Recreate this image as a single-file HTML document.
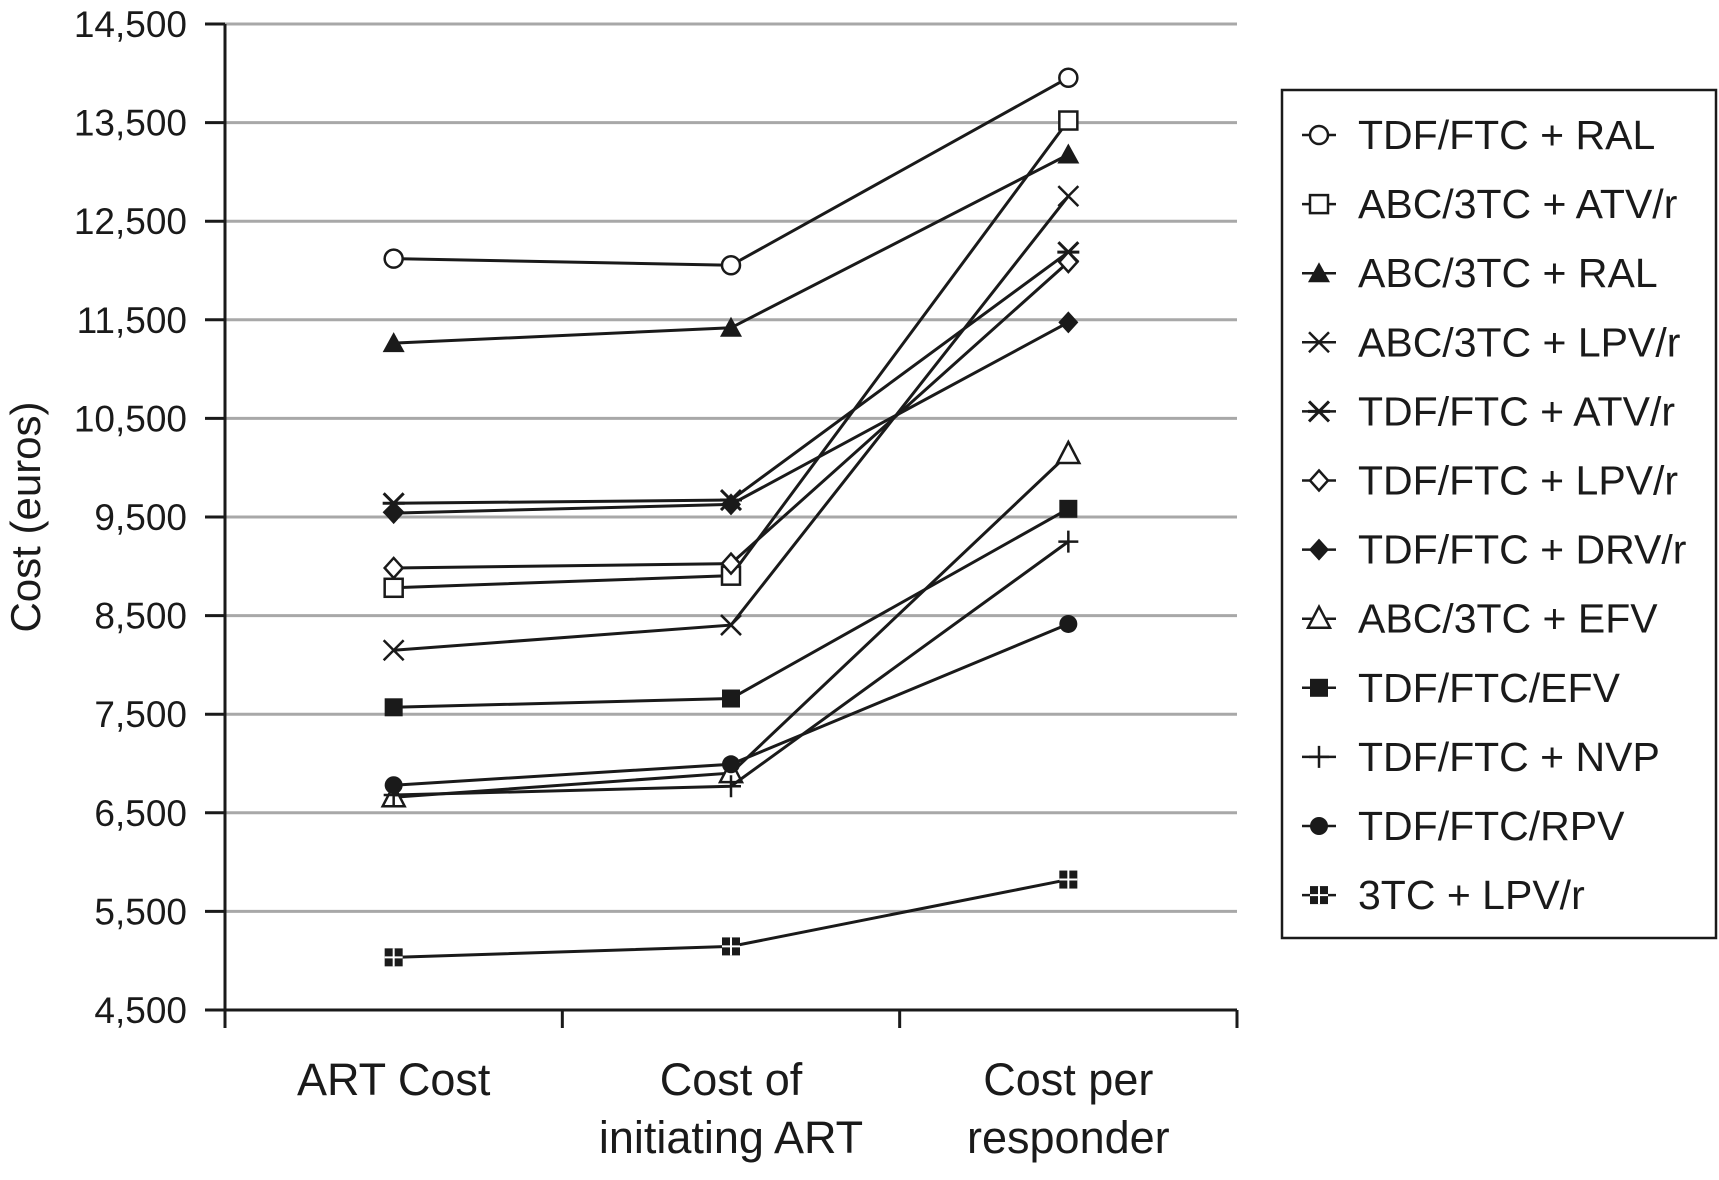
<!DOCTYPE html>
<html><head><meta charset="utf-8"><style>
html,body{margin:0;padding:0;background:#fff;}
svg{display:block;font-family:"Liberation Sans",Arial,sans-serif;}
</style></head><body>
<svg id="chart" width="1719" height="1180" viewBox="0 0 1719 1180" xmlns="http://www.w3.org/2000/svg"></svg>
<script>
const categories = ["ART Cost", "Cost of|initiating ART", "Cost per|responder"];
const seriesNames = ["TDF/FTC + RAL","ABC/3TC + ATV/r","ABC/3TC + RAL","ABC/3TC + LPV/r","TDF/FTC + ATV/r","TDF/FTC + LPV/r","TDF/FTC + DRV/r","ABC/3TC + EFV","TDF/FTC/EFV","TDF/FTC + NVP","TDF/FTC/RPV","3TC + LPV/r"];
const markers = ["ocircle","osquare","ftri","x","star","odiamond","fdiamond","otri","fsquare","plus","fcircle","hash"];
const s1 = [12120, 12053, 13955];
const s2 = [8782, 8905, 13521];
const s3 = [11263, 11419, 13176];
const s4 = [8149, 8404, 12754];
const s5 = [9639, 9672, 12186];
const s6 = [8983, 9027, 12086];
const s7 = [9539, 9628, 11474];
const s8 = [6658, 6903, 10139];
const s9 = [7570, 7659, 9583];
const s10 = [6680, 6769, 9250];
const s11 = [6780, 6992, 8415];
const s12 = [5034, 5145, 5823];
const seriesValues = [s1,s2,s3,s4,s5,s6,s7,s8,s9,s10,s11,s12];
const yTicks = [4500,5500,6500,7500,8500,9500,10500,11500,12500,13500,14500];
const yTickLabels = ["4,500","5,500","6,500","7,500","8,500","9,500","10,500","11,500","12,500","13,500","14,500"];

const svg = document.getElementById('chart');
const NS = "http://www.w3.org/2000/svg";
const X0 = 225, X1 = 1237, Y0 = 1010, Y1 = 24;
const yMin = 4500, yMax = 14500;
function yScale(v){ return Y0 - (v - yMin) / (yMax - yMin) * (Y0 - Y1); }
function xScale(i){ return X0 + (i + 0.5) * (X1 - X0) / categories.length; }
function mk(tag, attrs, parent){
  const e = document.createElementNS(NS, tag);
  for (const k in attrs) e.setAttribute(k, attrs[k]);
  (parent || svg).appendChild(e);
  return e;
}
yTicks.forEach((t, i) => {
  const y = yScale(t);
  if (i > 0) {
    const g = mk('line', {x1:X0, x2:X1, y1:y, y2:y, stroke:'#a8a8a8', 'stroke-width':3});
    
    
  }
  const tk = mk('line', {x1:X0-20, x2:X0, y1:y, y2:y, stroke:'#1a1a1a', 'stroke-width':3});
  
  
  const lb = mk('text', {x:187, y:y+13, 'text-anchor':'end', 'font-size':37, fill:'#1a1a1a'});
  lb.textContent = yTickLabels[i];
  
  
});
const ya = mk('line', {x1:X0, x2:X0, y1:Y1, y2:Y0, stroke:'#1a1a1a', 'stroke-width':3});


const xa = mk('line', {x1:X0-2, x2:X1, y1:Y0, y2:Y0, stroke:'#1a1a1a', 'stroke-width':3});


for (let i = 0; i <= categories.length; i++) {
  const x = X0 + i * (X1 - X0) / categories.length;
  const t = mk('line', {x1:x, x2:x, y1:Y0, y2:Y0+18, stroke:'#1a1a1a', 'stroke-width':3});
  
  
}
categories.forEach((c, i) => {
  const lines = c.split('|');
  lines.forEach((ln, j) => {
    const t = mk('text', {x:xScale(i), y:1095 + j*58, 'text-anchor':'middle', 'font-size':45, fill:'#1a1a1a'});
    t.textContent = ln;
    
    
  });
});
const yt = mk('text', {x:0, y:0, 'text-anchor':'middle', 'font-size':42, fill:'#1a1a1a', transform:'translate(40,517) rotate(-90)'});
yt.textContent = "Cost (euros)";



function marker(type, x, y, parent){
  const st = {stroke:'#1a1a1a', 'stroke-width':2.5};
  switch(type){
    case 'ocircle': mk('circle', Object.assign({cx:x, cy:y, r:9, fill:'#fff'}, st), parent); break;
    case 'fcircle': mk('circle', {cx:x, cy:y, r:9, fill:'#1a1a1a'}, parent); break;
    case 'osquare': mk('rect', Object.assign({x:x-9, y:y-9, width:18, height:18, fill:'#fff'}, st), parent); break;
    case 'fsquare': mk('rect', {x:x-9, y:y-9, width:18, height:18, fill:'#1a1a1a'}, parent); break;
    case 'ftri': mk('polygon', {points:`${x},${y-11} ${x+11},${y+9} ${x-11},${y+9}`, fill:'#1a1a1a'}, parent); break;
    case 'otri': mk('polygon', Object.assign({points:`${x},${y-12} ${x+11},${y+9} ${x-11},${y+9}`, fill:'#fff'}, st), parent); break;
    case 'odiamond': mk('polygon', Object.assign({points:`${x},${y-10} ${x+9},${y} ${x},${y+10} ${x-9},${y}`, fill:'#fff'}, st), parent); break;
    case 'fdiamond': mk('polygon', {points:`${x},${y-11} ${x+10},${y} ${x},${y+11} ${x-10},${y}`, fill:'#1a1a1a'}, parent); break;
    case 'x': mk('path', Object.assign({d:`M${x-10},${y-10}L${x+10},${y+10}M${x+10},${y-10}L${x-10},${y+10}`, fill:'none'}, st), parent); break;
    case 'plus': mk('path', Object.assign({d:`M${x-10},${y}L${x+10},${y}M${x},${y-11}L${x},${y+11}`, fill:'none'}, st), parent); break;
    case 'star': mk('path', Object.assign({d:`M${x-10},${y-10}L${x+10},${y+10}M${x+10},${y-10}L${x-10},${y+10}M${x-11},${y}L${x+11},${y}`, fill:'none'}, {stroke:'#1a1a1a','stroke-width':3}), parent); break;
    case 'hash':
      mk('rect', {x:x-9, y:y-9, width:18, height:18, fill:'#1a1a1a'}, parent);
      mk('path', {d:`M${x-9},${y}L${x+9},${y}M${x},${y-9}L${x},${y+9}`, stroke:'#fff', 'stroke-width':2}, parent);
      break;
  }
}
seriesValues.forEach((vals, si) => {
  const g = mk('g', {});
  
  
  const pts = vals.map((v, i) => xScale(i) + ',' + yScale(v)).join(' ');
  mk('polyline', {points:pts, fill:'none', stroke:'#1a1a1a', 'stroke-width':3}, g);
  vals.forEach((v, i) => marker(markers[si], xScale(i), yScale(v), g));
});
const lg = mk('g', {});


mk('rect', {x:1282, y:90, width:434, height:848, fill:'#fff', stroke:'#1a1a1a', 'stroke-width':2.5}, lg);
seriesNames.forEach((n, i) => {
  const y = 135 + i * 69.1;
  const e = mk('g', {}, lg);
  
  
  mk('line', {x1:1302, x2:1336, y1:y, y2:y, stroke:'#1a1a1a', 'stroke-width':2.5}, e);
  marker(markers[i], 1319, y, e);
  const t = mk('text', {x:1358, y:y+14, 'font-size':41, fill:'#1a1a1a'}, e);
  t.textContent = n;
});
</script>
</body></html>
